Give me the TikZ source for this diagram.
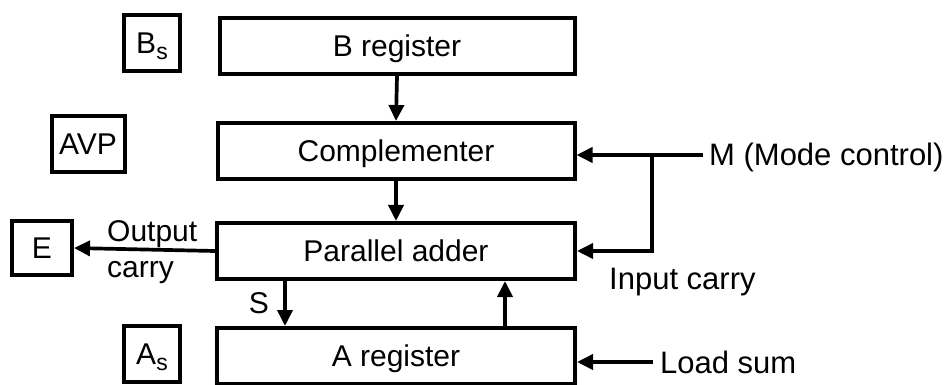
\documentclass[tikz,border=0pt]{standalone}
\usepackage{fontspec}
\setmainfont{Liberation Sans}
\usetikzlibrary{arrows.meta}
\newcommand{\subs}[1]{\raisebox{-6pt}{\fontsize{23}{24}\selectfont #1}}
\begin{document}
\begin{tikzpicture}[x=1pt,y=-1pt,
  every node/.style={font=\fontsize{30}{36}\selectfont},
  box/.style={draw,line width=4pt,inner sep=0pt,minimum height=56pt,
              text height=21.5pt,text depth=0pt},
  lbl/.style={inner sep=0pt,anchor=base west},
  side/.style={lbl,font=\fontsize{31}{36}\selectfont},
  arr/.style={line width=3.7pt,-{Triangle[length=16pt,width=15pt]}}]
  \useasboundingbox (0,0) rectangle (951,385);
  \clip (0,0) rectangle (951,385);

  % register and unit blocks
  \node[box,minimum width=56pt]  (bs)   at (152,43)  {B\subs{s}};
  \node[box,minimum width=355pt] (breg) at (397,46)  {B register};
  \node[box,minimum width=73pt]  (avp)  at (88,144)  {AVP};
  \node[box,minimum width=357pt] (comp) at (396,151) {Complementer};
  \node[box,minimum width=358pt] (add)  at (396,251) {Parallel adder};
  \node[box,minimum width=60pt,minimum height=54pt] (e) at (42,248) {E};
  \node[box,minimum width=56pt]  (as)   at (152,354) {A\subs{s}};
  \node[box,minimum width=358pt] (areg) at (396,356) {A register};

  % data paths between blocks
  \draw[arr] (breg.south) -- (comp.north);
  \draw[arr] (comp.south) -- (add.north);
  \coordinate (sx) at (285,0);
  \coordinate (ux) at (505,0);
  \draw[arr] (add.south -| sx) -- (areg.north -| sx);
  \node[inner sep=0pt] (s) at (259,303) {S};
  \draw[arr] (areg.north -| ux) -- (add.south -| ux);
  \draw[arr] (add.west) -- (e.east);
  \node[lbl] (out) at (107,241) {Output};
  \node[lbl] (cry) at (107,277) {carry};

  % mode control and input carry
  \node[side] (m) at (709,166) {M (Mode control)};
  \coordinate (mend) at (703,155);
  \coordinate (br) at (652,0);
  \draw[arr] (mend) -- (comp.east |- mend);
  \draw[arr] (br |- mend) -- (br |- add.east) -- (add.east);
  \node[side] (ic) at (609,289) {Input carry};

  % load sum control
  \node[side] (ld) at (660,373) {Load sum};
  \coordinate (lend) at (653,362);
  \draw[arr] (lend) -- (areg.east |- lend);
\end{tikzpicture}
\end{document}
